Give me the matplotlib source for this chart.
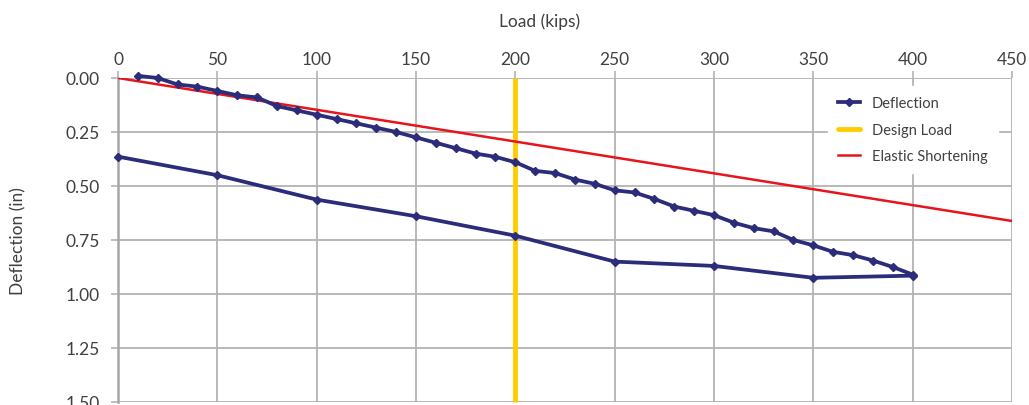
import matplotlib
matplotlib.use("Agg")
import matplotlib.pyplot as plt
from matplotlib.lines import Line2D

# Data
load_kips = [10, 20, 30, 40, 50, 60, 70, 80, 90, 100,
             110, 120, 130, 140, 150, 160, 170, 180, 190, 200,
             210, 220, 230, 240, 250, 260, 270, 280, 290, 300,
             310, 320, 330, 340, 350, 360, 370, 380, 390, 400,
             400, 350, 300, 250, 200, 150, 100, 50, 0]
deflection_in = [-0.01, 0.00, 0.03, 0.04, 0.06, 0.08, 0.09, 0.13, 0.15, 0.17,
                 0.19, 0.21, 0.23, 0.25, 0.275, 0.30, 0.325, 0.35, 0.365, 0.39,
                 0.43, 0.44, 0.47, 0.49, 0.52, 0.53, 0.56, 0.595, 0.615, 0.635,
                 0.67, 0.695, 0.71, 0.75, 0.775, 0.805, 0.82, 0.845, 0.875, 0.91,
                 0.915, 0.925, 0.87, 0.85, 0.73, 0.64, 0.563, 0.45, 0.364]
design_load_x = [200, 200]
design_load_y = [0.0, 1.5]
elastic_x = [0, 450]
elastic_y = [0.0, 0.662]
x_ticks = [0, 50, 100, 150, 200, 250, 300, 350, 400, 450]
y_ticks = [0.00, 0.25, 0.50, 0.75, 1.00, 1.25, 1.50]

plt.rcParams['font.family'] = ['Lato', 'DejaVu Sans']
TXT = '#404040'
GRID = '#b3b3b3'
NAVY = '#2b2c7a'
YELLOW = '#ffcc00'
RED = '#e8141b'

fig = plt.figure(figsize=(10.29, 4.06), dpi=100)
ax = fig.add_axes([118/1029, 1 - 403/406, (1012 - 118)/1029, (403 - 79)/406])

ax.set_xlim(0, 450)
ax.set_ylim(1.5, 0.0)
ax.set_xticks(x_ticks)
ax.set_yticks(y_ticks)
ax.set_yticklabels([f"{v:.2f}" for v in y_ticks])
ax.xaxis.tick_top()
ax.grid(True, color=GRID, linewidth=1.3, zorder=0)
ax.set_axisbelow(True)
for s in ['right', 'bottom', 'top']:
    ax.spines[s].set_visible(False)
ax.spines['left'].set_color('#a6a6a6')
ax.spines['left'].set_linewidth(1.8)
ax.tick_params(axis='both', colors=GRID, labelcolor=TXT, labelsize=12.5,
               length=5, width=1.2)
ax.tick_params(axis='y', pad=8)
ax.tick_params(axis='x', pad=3)

ax.plot(design_load_x, design_load_y, color=YELLOW, linewidth=3.5, zorder=3,
        solid_capstyle='butt', clip_on=False)
ax.plot(elastic_x, elastic_y, color=RED, linewidth=1.8, zorder=4)
ax.plot(load_kips, deflection_in, color=NAVY, linewidth=2.7, marker='D',
        markersize=4, zorder=5, clip_on=False)

fig.text(540/1029, 1 - 22/406, 'Load (kips)', ha='center', va='center',
         fontsize=12.5, color=TXT)
fig.text(18/1029, 1 - 241/406, 'Deflection (in)', ha='center', va='center',
         rotation=90, fontsize=12.5, color=TXT)

handles = [
    Line2D([], [], color=NAVY, linewidth=2.7, marker='D', markersize=4),
    Line2D([], [], color=YELLOW, linewidth=3.5, solid_capstyle='round'),
    Line2D([], [], color=RED, linewidth=1.8),
]
labels = ['Deflection', 'Design Load', 'Elastic Shortening']
leg = ax.legend(handles, labels, loc='upper left',
                bbox_to_anchor=(828/1029, 1 - 87/406), bbox_transform=fig.transFigure,
                frameon=True, fontsize=10.5, labelcolor=TXT, handlelength=1.5,
                handletextpad=0.8, labelspacing=0.85, borderpad=0.7,
                borderaxespad=0)
leg.get_frame().set_edgecolor('white')
leg.get_frame().set_facecolor('white')
leg.get_frame().set_alpha(1)
leg.get_frame().set_boxstyle('square', pad=0)
leg.set_zorder(6)

fig.savefig('out.png', dpi=100)
